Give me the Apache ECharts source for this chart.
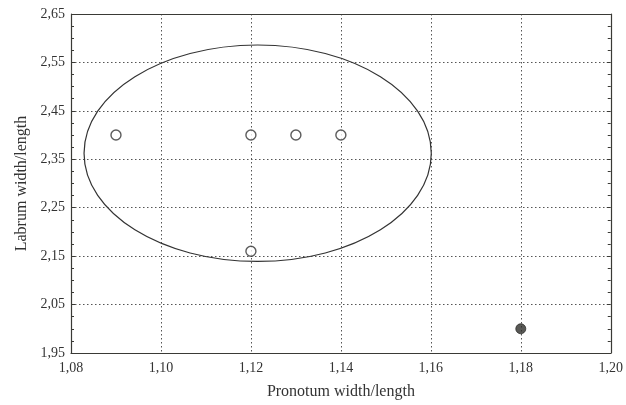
<!DOCTYPE html>
<html><head><meta charset="utf-8">
<script src="https://cdn.jsdelivr.net/npm/echarts@6/dist/echarts.min.js"></script>
<style>html,body{margin:0;padding:0;background:#fff}#c{width:626px;height:405px}</style>
</head><body><div id="c"></div>
<script>
const xTicks = [1.08, 1.10, 1.12, 1.14, 1.16, 1.18, 1.20];
const yTicks = [1.95, 2.05, 2.15, 2.25, 2.35, 2.45, 2.55, 2.65];
const openPoints = [[1.09, 2.40], [1.12, 2.40], [1.13, 2.40], [1.14, 2.40], [1.12, 2.16]];
const filledPoints = [[1.18, 2.00]];
// ellipse: center x, center y, half-width (x units), half-height (y units)
const ellipse = [[1.1215, 2.3625, 0.0386, 0.2235]];

const fmt = v => v.toFixed(2).replace('.', ',');
const FONT = 'Liberation Serif';
const ink = '#3a3a36';

const chart = echarts.init(document.getElementById('c'), null, {renderer: 'canvas'});
chart.setOption({
  backgroundColor: '#fff',
  animation: false,
  grid: {left: 71, right: 14, top: 14, bottom: 51, containLabel: false},
  xAxis: {
    type: 'value', min: 1.08, max: 1.20, interval: 0.02,
    axisLine: {show: true, lineStyle: {color: ink, width: 1.2}},
    axisTick: {show: false},
    axisLabel: {formatter: fmt, fontFamily: FONT, fontSize: 14, color: '#333', margin: 8},
    splitLine: {show: true, lineStyle: {type: [1.5, 2.5], color: '#555', width: 1}},
    name: 'Pronotum width/length', nameLocation: 'middle', nameGap: 31,
    nameTextStyle: {fontFamily: FONT, fontSize: 16, color: '#333'}
  },
  yAxis: [{
    type: 'value', min: 1.95, max: 2.65, interval: 0.1,
    axisLine: {show: true, lineStyle: {color: ink, width: 1.2}},
    axisTick: {show: true, inside: true, length: 4, lineStyle: {color: ink}},
    minorTick: {show: true, splitNumber: 4, length: 3, lineStyle: {color: ink}},
    axisLabel: {formatter: fmt, fontFamily: FONT, fontSize: 14, color: '#333', margin: 6},
    splitLine: {show: true, lineStyle: {type: [1.5, 2.5], color: '#555', width: 1}},
    name: 'Labrum width/length', nameLocation: 'middle', nameGap: 41,
    nameTextStyle: {fontFamily: FONT, fontSize: 16, color: '#333'}
  }, {
    type: 'value', min: 1.95, max: 2.65, interval: 0.1, position: 'right',
    axisLine: {show: true, lineStyle: {color: ink, width: 1.2}},
    axisTick: {show: true, inside: true, length: 4, lineStyle: {color: ink}},
    minorTick: {show: true, splitNumber: 4, length: 3, lineStyle: {color: ink}},
    axisLabel: {show: false}, splitLine: {show: false}
  }],
  series: [
    {
      type: 'custom', data: ellipse, silent: true, z: 3,
      renderItem: function (params, api) {
        const c = api.coord([api.value(0), api.value(1)]);
        const s = api.size([api.value(2), api.value(3)]);
        return {
          type: 'ellipse',
          shape: {cx: c[0], cy: c[1], rx: s[0], ry: s[1]},
          style: {fill: 'none', stroke: '#333', lineWidth: 1.2}
        };
      }
    },
    {
      type: 'scatter', data: openPoints, symbol: 'circle', symbolSize: 10, z: 4,
      itemStyle: {color: '#fff', borderColor: '#333', borderWidth: 1.4}
    },
    {
      type: 'scatter', data: filledPoints, symbol: 'circle', symbolSize: 10, z: 4,
      itemStyle: {color: '#2e2e2a', borderColor: '#2e2e2a', borderWidth: 1}
    },
    {
      type: 'line', data: [], markLine: {silent: true, symbol: 'none', label: {show: false},
        lineStyle: {type: 'solid', color: ink, width: 1.2},
        data: [{yAxis: 2.65}]}
    }
  ]
});
</script></body></html>
